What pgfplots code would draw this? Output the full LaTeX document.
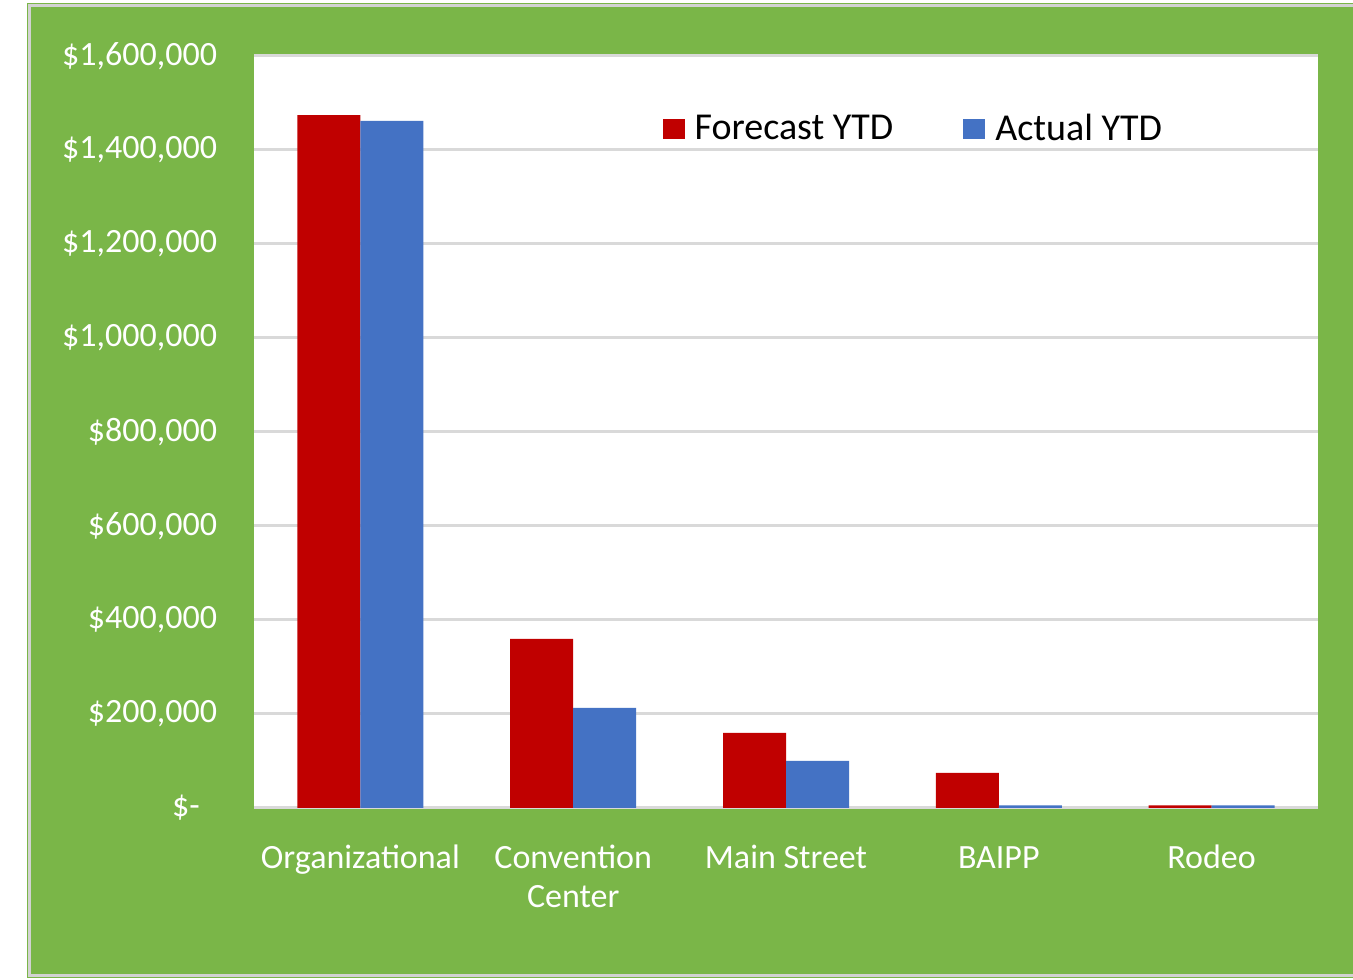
\documentclass[border=0pt]{standalone}
\usepackage{pgfplots}
\pgfplotsset{compat=1.18}
\usepackage{fontspec}
\setmainfont{Carlito}
\definecolor{bggreen}{HTML}{7AB648}
\definecolor{fred}{HTML}{C00000}
\definecolor{ablue}{HTML}{4472C4}
\definecolor{gridc}{HTML}{D9D9D9}
\begin{document}
\begin{tikzpicture}
\useasboundingbox (0pt,0pt) rectangle (676.5pt,489.5pt);
\begin{scope}
\clip (0pt,0pt) rectangle (676.5pt,489.5pt);
\fill[bggreen] (13.5pt,0.5pt) rectangle (690pt,488pt);
\draw[line width=1.4pt, gray!35] (700pt,1.6pt) -- (14.6pt,1.6pt) -- (14.6pt,486.8pt) -- (700pt,486.8pt);
\end{scope}
\begin{axis}[
  at={(127pt,85.5pt)}, anchor=south west,
  scale only axis, width=532pt, height=376pt,
  xmin=-0.5, xmax=4.5, ymin=0, ymax=1600000,
  axis line style={draw=none},
  major tick length=0pt,
  ytick={0,200000,400000,600000,800000,1000000,1200000,1400000,1600000},
  yticklabels={{\$-\hphantom{0}},{\$200,000},{\$400,000},{\$600,000},{\$800,000},{\$1,000,000},{\$1,200,000},{\$1,400,000},{\$1,600,000}},
  scaled y ticks=false,
  ymajorgrids, grid style={gridc, line width=1.5pt},
  xtick={0,1,2,3,4},
  xticklabels={\strut Organizational,{\strut Convention\\Center},\strut Main Street,\strut BAIPP,\strut Rodeo},
  tick label style={font=\fontsize{17}{19.5}\selectfont, text=white},
  xticklabel style={align=center, yshift=-13pt},
  yticklabel style={anchor=east, xshift=-15pt},
  axis background/.style={fill=white},
  ybar=0pt, bar width=31.5pt,
  legend style={at={(0.378,0.903)}, anchor=west, draw=none, fill=none,
    font=\fontsize{19}{22}\selectfont, text=black,
    /tikz/every odd column/.append style={column sep=3pt},
    /tikz/every even column/.append style={column sep=33pt}},
  legend columns=2,
  legend image code/.code={\fill[#1] (0pt,-5pt) rectangle (11pt,5pt);},
]
\addplot[fill=fred, draw=none] coordinates {(0,1474000) (1,359600) (2,159600) (3,74500) (4,5500)};
\addplot[fill=ablue, draw=none] coordinates {(0,1461700) (1,212800) (2,100000) (3,5500) (4,5500)};
\legend{Forecast YTD,Actual YTD}
\end{axis}
\end{tikzpicture}
\end{document}
